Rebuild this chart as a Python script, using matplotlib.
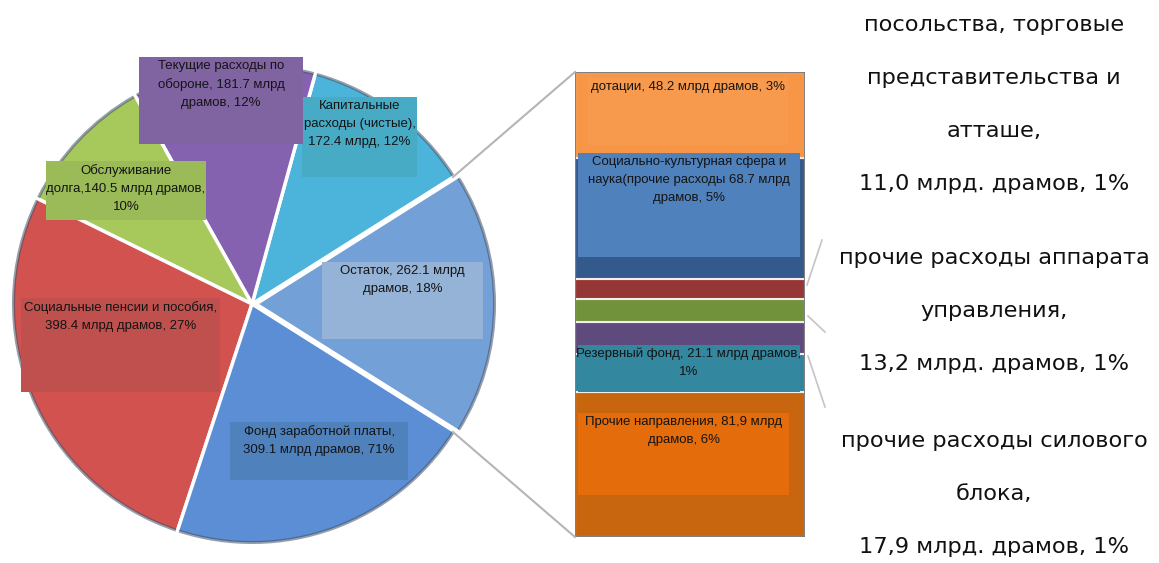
import numpy as np
import matplotlib.pyplot as plt
from matplotlib.patches import Rectangle, Arc

W, H = 1159, 563

# main pie: budget expenditure items, bln AMD
pie_labels = ['Остаток, 262.1 млрд\nдрамов, 18%',
              'Капитальные\nрасходы (чистые),\n172.4 млрд, 12%',
              'Текущие расходы по\nобороне, 181.7 млрд\nдрамов, 12%',
              'Обслуживание\nдолга,140.5 млрд драмов,\n10%',
              'Социальные пенсии и пособия,\n398.4 млрд драмов, 27%',
              'Фонд заработной платы,\n309.1 млрд драмов, 71%']
pie_values = [262.1, 172.4, 181.7, 140.5, 398.4, 309.1]
pie_colors = ['#74a0d8', '#4cb3da', '#8462b0', '#a7c95c', '#d1524f', '#5b8ed4']
pie_box_colors = ['#95b3d7', '#47abc6', '#8064a2', '#9bbb59', '#c0504d', '#4f81bd']

# breakdown of "Остаток" (bottom to top of the bar)
bar_labels = ['Прочие направления, 81,9 млрд\nдрамов, 6%',
              'Резервный фонд, 21.1 млрд драмов,\n1%',
              '', '', '',
              'Социально-культурная сфера и\nнаука(прочие расходы 68.7 млрд\nдрамов, 5%',
              'дотации, 48.2 млрд драмов, 3%']
bar_values = [81.9, 21.1, 17.9, 13.2, 11.0, 68.7, 48.2]
bar_colors = ['#c8650f', '#31849b', '#5f4a7e', '#71913b', '#953735', '#34598c', '#f79646']
bar_box_colors = ['#e46c0a', '#33879f', None, None, None, '#4f81bd', '#f89a4d']

side_labels = ['посольства, торговые\nпредставительства и\nатташе,\n11,0 млрд. драмов, 1%',
               'прочие расходы аппарата\nуправления,\n13,2 млрд. драмов, 1%',
               'прочие расходы силового\nблока,\n17,9 млрд. драмов, 1%']

# label boxes in pixels (left, top, right, bottom)
pie_boxes = [(322, 262, 483, 339), (302, 97, 417, 177), (139, 57, 303, 144),
             (46, 161, 206, 220), (21, 298, 220, 392), (230, 422, 408, 480)]
bar_boxes = [(578, 413, 789, 495), (578, 345, 800, 392), None, None, None,
             (578, 153, 800, 257), (588, 78, 788, 145)]
side_y = [25, 258, 441]

fig = plt.figure(figsize=(W / 100, H / 100), dpi=100)
fig.patch.set_facecolor('white')

# stacked bar
axb = fig.add_axes([575 / W, (H - 537) / H, 230 / W, 465 / H])
bottom = 0
for v, c in zip(bar_values, bar_colors):
    axb.bar(0, v, bottom=bottom, width=1, color=c, edgecolor='#f2eeee', linewidth=1.5)
    bottom += v
axb.add_patch(Rectangle((-0.5, 0), 1, sum(bar_values), fill=False, edgecolor='#6a6a6a', lw=1.2))
axb.set_xlim(-0.5, 0.5)
axb.set_ylim(0, sum(bar_values))
axb.axis('off')

# overlay in pixel coordinates
ax = fig.add_axes([0, 0, 1, 1])
ax.set_xlim(0, W)
ax.set_ylim(0, H)
ax.patch.set_alpha(0)
ax.axis('off')

cx, cy, r = 252, H - 304, 240
wedges, _ = ax.pie(pie_values, colors=pie_colors, startangle=-32.2, counterclock=True,
                   center=(cx, cy), radius=r, explode=[4, 0, 0, 0, 0, 0], frame=True,
                   wedgeprops=dict(edgecolor='white', linewidth=2.5))
for w in wedges:
    ax.add_patch(Arc(w.center, 2 * w.r - 3, 2 * w.r - 3, theta1=w.theta1 + 0.4,
                     theta2=w.theta2 - 0.4, color='#3f4f66', lw=2.2, alpha=0.55))
ax.set_xlim(0, W)
ax.set_ylim(0, H)
ax.set_aspect('equal')

# connectors between the pie and the bar
ax.plot([453, 575], [H - 177, H - 72], color='#b5b5b5', lw=1.5)
ax.plot([453, 575], [H - 432, H - 537], color='#b5b5b5', lw=1.5)
for x0, y0, x1, y1 in [(807, 285, 822, 240), (808, 316, 825, 332), (808, 356, 825, 407)]:
    ax.plot([x0, x1], [H - y0, H - y1], color='#c4c4c4', lw=1.2)

font_box = dict(family='Liberation Sans', size=9.5, color='#141414', linespacing=1.66)


def label_box(box, color, text):
    l, t, rr, b = box
    ax.add_patch(Rectangle((l, H - b), rr - l, b - t, facecolor=color, edgecolor='none', zorder=5))
    ax.text((l + rr) / 2, H - t - 3, text, ha='center', va='top', zorder=6, **font_box)


for box, c, t in zip(pie_boxes, pie_box_colors, pie_labels):
    label_box(box, c, t)
for box, c, t in zip(bar_boxes, bar_box_colors, bar_labels):
    if box is not None:
        label_box(box, c, t)

for y0, t in zip(side_y, side_labels):
    for i, line in enumerate(t.split('\n')):
        ax.text(994, H - (y0 + 53 * i), line, ha='center', va='center',
                family='DejaVu Sans', size=16.2, color='#111111')

fig.savefig('out.png', dpi=100, facecolor='white')
